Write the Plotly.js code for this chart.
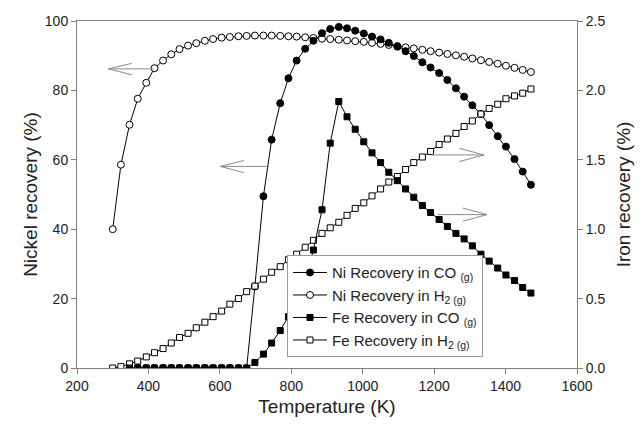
<!DOCTYPE html>
<html>
<head>
<meta charset="utf-8">
<script src="https://cdn.plot.ly/plotly-3.0.1.min.js"></script>
<style>html,body{margin:0;padding:0;background:#fff;}#chart{width:642px;height:425px;}</style>
</head>
<body>
<div id="chart"></div>
<script>
// Temperature (K)
var temperature = [300, 323, 347, 370, 394, 417, 441, 464, 487, 511, 534, 558, 581, 605, 628, 652, 675,
  698, 722, 745, 769, 792, 815, 839, 862, 886, 909, 933, 956, 979, 1003, 1026, 1050, 1073, 1097, 1120,
  1143, 1167, 1190, 1214, 1237, 1261, 1284, 1307, 1331, 1354, 1378, 1401, 1425, 1448, 1471];

// Nickel recovery (%) — left axis
var niH2 = [40, 58.6, 70.1, 77.6, 82.2, 86.4, 88.6, 90.4, 91.9, 92.9, 93.6, 94.3, 94.8, 95.2, 95.4, 95.6, 95.7,
  95.8, 95.8, 95.8, 95.7, 95.6, 95.5, 95.3, 95.1, 94.9, 94.8, 94.6, 94.4, 94.2, 94.0, 93.7, 93.4, 93.1, 92.8, 92.4,
  92.1, 91.7, 91.3, 90.9, 90.5, 90.1, 89.7, 89.2, 88.7, 88.2, 87.7, 87.1, 86.5, 85.9, 85.3];
var niCO = [null, null, 0, 0, 0, 0, 0, 0, 0, 0, 0, 0, 0, 0, 0, 0, 0,
  23.5, 49.5, 65.8, 76.3, 83.5, 88.6, 92.0, 94.3, 96.5, 97.7, 98.3, 97.9, 97.2, 96.4, 95.5, 94.7, 93.7, 92.6, 91.3,
  89.9, 88.1, 86.6, 85.0, 83.0, 80.6, 78.2, 75.7, 73.2, 70.0, 66.8, 63.8, 60.2, 56.6, 52.8];

// Iron recovery (%) — right axis
var feH2 = [0, 0.01, 0.03, 0.05, 0.08, 0.11, 0.14, 0.18, 0.22, 0.25, 0.29, 0.33, 0.37, 0.41, 0.46, 0.50, 0.55,
  0.59, 0.64, 0.69, 0.73, 0.78, 0.82, 0.87, 0.92, 0.97, 1.01, 1.05, 1.10, 1.15, 1.19, 1.24, 1.29, 1.34, 1.38, 1.43,
  1.48, 1.52, 1.56, 1.61, 1.65, 1.69, 1.74, 1.78, 1.83, 1.87, 1.90, 1.94, 1.96, 1.98, 2.01];
var feCO = [null, null, 0, 0, 0, 0, 0, 0, 0, 0, 0, 0, 0, 0, 0, 0, 0,
  0.04, 0.10, 0.18, 0.27, 0.37, 0.49, 0.65, 0.85, 1.14, 1.62, 1.92, 1.81, 1.72, 1.63, 1.55, 1.48, 1.41, 1.35, 1.29,
  1.23, 1.17, 1.12, 1.07, 1.02, 0.97, 0.93, 0.88, 0.82, 0.77, 0.72, 0.67, 0.63, 0.58, 0.54];

var xTicks = [200, 400, 600, 800, 1000, 1200, 1400, 1600];
var leftTicks = [0, 20, 40, 60, 80, 100];
var rightTicks = [0, 0.5, 1.0, 1.5, 2.0, 2.5];

var names = ['Ni Recovery in CO <sub>(g)</sub>', 'Ni Recovery in H<sub>2 (g)</sub>',
             'Fe Recovery in CO <sub>(g)</sub>', 'Fe Recovery in H<sub>2 (g)</sub>'];

var lineStyle = {color: '#000', width: 1};
var traces = [
  {x: temperature, y: niH2, name: names[1], legendrank: 2, mode: 'lines+markers', line: lineStyle,
   marker: {symbol: 'circle', size: 7, color: '#fff', line: {color: '#000', width: 1}}},
  {x: temperature, y: feH2, name: names[3], legendrank: 4, yaxis: 'y2', mode: 'lines+markers', line: lineStyle,
   marker: {symbol: 'square', size: 6, color: '#fff', line: {color: '#000', width: 1}}},
  {x: temperature, y: niCO, name: names[0], legendrank: 1, mode: 'lines+markers', line: lineStyle,
   marker: {symbol: 'circle', size: 7, color: '#000', line: {color: '#000', width: 1}}},
  {x: temperature, y: feCO, name: names[2], legendrank: 3, yaxis: 'y2', mode: 'lines+markers', line: lineStyle,
   marker: {symbol: 'square', size: 6, color: '#000', line: {color: '#000', width: 1}}}
];

var arrowColor = '#8a8a8a';
function arrow(tail, tip, b1, b2) {
  return {type: 'path', xref: 'x', yref: 'y', layer: 'above',
    path: 'M' + tail[0] + ',' + tail[1] + 'L' + tip[0] + ',' + tip[1] +
          'M' + b1[0] + ',' + b1[1] + 'L' + tip[0] + ',' + tip[1] + 'L' + b2[0] + ',' + b2[1],
    line: {color: arrowColor, width: 1}};
}

var fontFam = '"Liberation Sans", Arial, sans-serif';
var layout = {
  width: 642, height: 425,
  margin: {l: 77, r: 65, t: 21, b: 57},
  paper_bgcolor: '#fff', plot_bgcolor: '#fff',
  font: {family: fontFam, size: 14, color: '#222'},
  showlegend: true,
  legend: {x: 0.42, y: 0.325, xanchor: 'left', yanchor: 'top', bgcolor: '#fff',
           bordercolor: '#999', borderwidth: 1, font: {size: 15, color: '#222', family: fontFam},
           traceorder: 'normal', itemwidth: 34},
  xaxis: {range: [200, 1600], tickvals: xTicks, ticks: 'outside', ticklen: 5, tickcolor: '#808080',
          showline: true, linecolor: '#808080', linewidth: 1, mirror: true, showgrid: false, zeroline: false,
          title: {text: 'Temperature (K)', font: {size: 19}, standoff: 6}},
  yaxis: {range: [0, 100], tickvals: leftTicks, ticks: 'outside', ticklen: 5, tickcolor: '#808080',
          showline: true, linecolor: '#808080', linewidth: 1, showgrid: false, zeroline: false,
          title: {text: 'Nickel recovery (%)', font: {size: 19}, standoff: 2}},
  yaxis2: {range: [0, 2.5], tickvals: rightTicks, tickformat: '.1f', overlaying: 'y', side: 'right',
           ticks: 'outside', ticklen: 5, tickcolor: '#808080',
           showline: true, linecolor: '#808080', linewidth: 1, showgrid: false, zeroline: false,
           title: {text: 'Iron recovery (%)', font: {size: 19}, standoff: 12}},
  shapes: [
    arrow([414, 86.2], [288, 86.2], [353.5, 87.8], [353.5, 84.5]),
    arrow([737, 58.1], [601.5, 58.1], [667, 59.8], [667, 56.3]),
    arrow([1191, 61.4], [1339, 61.4], [1271, 63.3], [1271, 59.5]),
    arrow([1210, 44.2], [1348, 44.2], [1280, 46.1], [1280, 42.3])
  ]
};

Plotly.newPlot('chart', traces, layout, {displayModeBar: false, staticPlot: true});
</script>
</body>
</html>
